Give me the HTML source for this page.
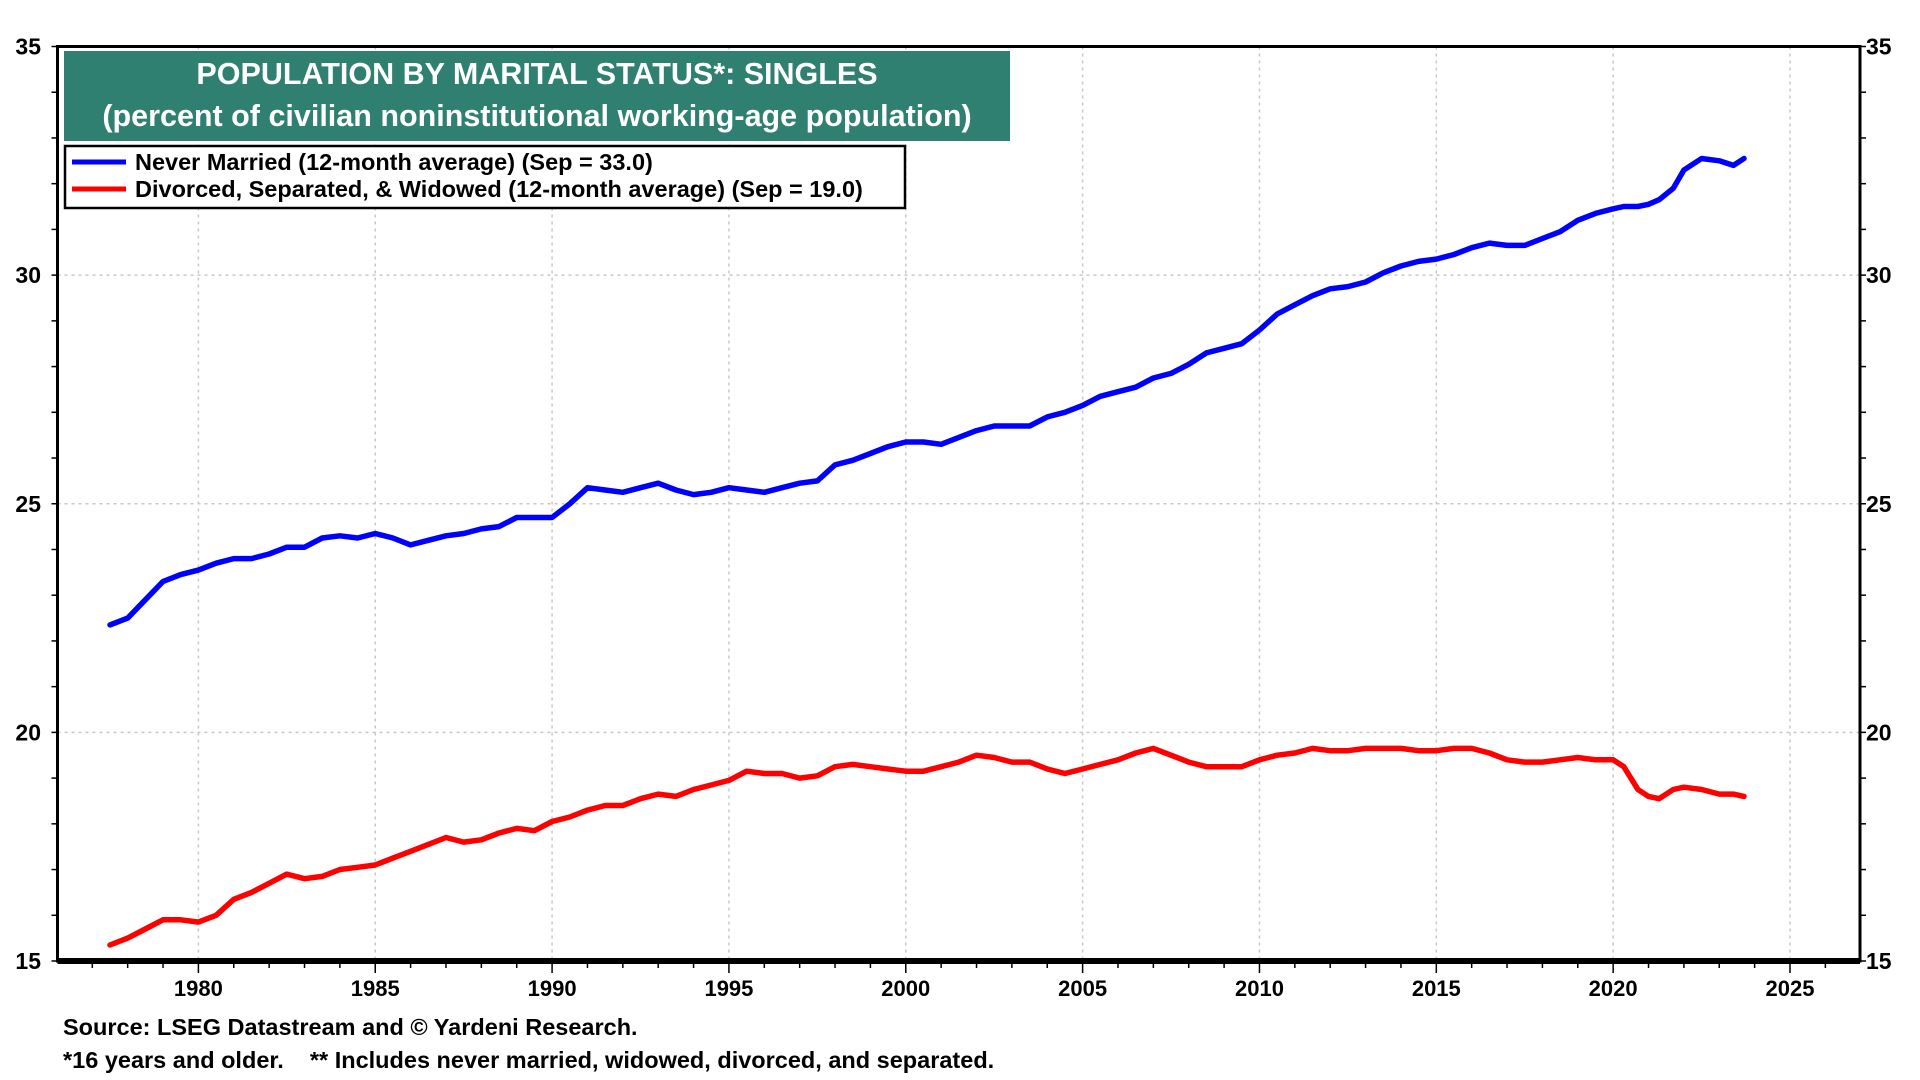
<!DOCTYPE html>
<html><head><meta charset="utf-8"><style>
html,body{margin:0;padding:0;background:#fff;}
svg{display:block;font-family:"Liberation Sans",Arial,sans-serif;}
</style></head><body>
<svg id="chart" width="1920" height="1080" viewBox="0 0 1920 1080">
<g id="grid"></g>
<g id="series"></g>
<g id="axes"></g>
<rect x="64" y="51" width="946" height="90" fill="#2f8070"/>
<text x="537" y="84" text-anchor="middle" fill="#fff" font-size="30.5" font-weight="bold">POPULATION BY MARITAL STATUS*: SINGLES</text>
<text x="537" y="126" text-anchor="middle" fill="#fff" font-size="30.5" font-weight="bold">(percent of civilian noninstitutional working-age population)</text>
<g>
<rect x="65" y="146" width="840" height="62" fill="#fff" stroke="#000" stroke-width="2.5"/>
<line x1="72" y1="162" x2="126" y2="162" stroke="#0000ff" stroke-width="5"/>
<text x="135" y="170" font-size="23.5" font-weight="bold">Never Married (12-month average) (Sep = 33.0)</text>
<line x1="72" y1="189" x2="126" y2="189" stroke="#ff0000" stroke-width="5"/>
<text x="135" y="197" font-size="23.5" font-weight="bold">Divorced, Separated, &amp; Widowed (12-month average) (Sep = 19.0)</text>
</g>
<text x="63" y="1035" font-size="23.5" font-weight="bold">Source: LSEG Datastream and © Yardeni Research.</text>
<text x="63" y="1068" font-size="23.5" font-weight="bold" xml:space="preserve" style="white-space:pre">*16 years and older.    ** Includes never married, widowed, divorced, and separated.</text>
</svg>
<script>
const years = [1977.5,1978,1978.5,1979,1979.5,1980,1980.5,1981,1981.5,1982,1982.5,1983,1983.5,1984,1984.5,1985,1985.5,1986,1986.5,1987,1987.5,1988,1988.5,1989,1989.5,1990,1990.5,1991,1991.5,1992,1992.5,1993,1993.5,1994,1994.5,1995,1995.5,1996,1996.5,1997,1997.5,1998,1998.5,1999,1999.5,2000,2000.5,2001,2001.5,2002,2002.5,2003,2003.5,2004,2004.5,2005,2005.5,2006,2006.5,2007,2007.5,2008,2008.5,2009,2009.5,2010,2010.5,2011,2011.5,2012,2012.5,2013,2013.5,2014,2014.5,2015,2015.5,2016,2016.5,2017,2017.5,2018,2018.5,2019,2019.5,2020,2020.3,2020.7,2021,2021.3,2021.7,2022,2022.5,2023,2023.4,2023.7];
const neverMarried = [22.35,22.5,22.9,23.3,23.45,23.55,23.7,23.8,23.8,23.9,24.05,24.05,24.25,24.3,24.25,24.35,24.25,24.1,24.2,24.3,24.35,24.45,24.5,24.7,24.7,24.7,25.0,25.35,25.3,25.25,25.35,25.45,25.3,25.2,25.25,25.35,25.3,25.25,25.35,25.45,25.5,25.85,25.95,26.1,26.25,26.35,26.35,26.3,26.45,26.6,26.7,26.7,26.7,26.9,27.0,27.15,27.35,27.45,27.55,27.75,27.85,28.05,28.3,28.4,28.5,28.8,29.15,29.35,29.55,29.7,29.75,29.85,30.05,30.2,30.3,30.35,30.45,30.6,30.7,30.65,30.65,30.8,30.95,31.2,31.35,31.45,31.5,31.5,31.55,31.65,31.9,32.3,32.55,32.5,32.4,32.55];
const divorced = [15.35,15.5,15.7,15.9,15.9,15.85,16.0,16.35,16.5,16.7,16.9,16.8,16.85,17.0,17.05,17.1,17.25,17.4,17.55,17.7,17.6,17.65,17.8,17.9,17.85,18.05,18.15,18.3,18.4,18.4,18.55,18.65,18.6,18.75,18.85,18.95,19.15,19.1,19.1,19.0,19.05,19.25,19.3,19.25,19.2,19.15,19.15,19.25,19.35,19.5,19.45,19.35,19.35,19.2,19.1,19.2,19.3,19.4,19.55,19.65,19.5,19.35,19.25,19.25,19.25,19.4,19.5,19.55,19.65,19.6,19.6,19.65,19.65,19.65,19.6,19.6,19.65,19.65,19.55,19.4,19.35,19.35,19.4,19.45,19.4,19.4,19.25,18.75,18.6,18.55,18.75,18.8,18.75,18.65,18.65,18.6];
const xTickLabels = [1980,1985,1990,1995,2000,2005,2010,2015,2020,2025];
const yTickLabels = [15,20,25,30,35];

const L=57.5,R=1860,T=46.5,B=961;
const X0=1980,X1=2025,PX0=198.4,PX1=1790;
function xs(v){return PX0+(v-X0)*(PX1-PX0)/(X1-X0);}
function ys(v){return B-(v-15)*(B-T)/20;}
const NS="http://www.w3.org/2000/svg";
function mk(tag,attrs,parent){const e=document.createElementNS(NS,tag);for(const k in attrs)e.setAttribute(k,attrs[k]);parent.appendChild(e);return e;}
const grid=document.getElementById('grid'),axes=document.getElementById('axes'),series=document.getElementById('series');

xTickLabels.forEach(y=>{
  const g=mk('line',{x1:xs(y),x2:xs(y),y1:T,y2:B,stroke:'#c8c8c8','stroke-width':1.5,'stroke-dasharray':'3,4'},grid);
  
  
  const t=mk('text',{x:xs(y),y:B+35,'text-anchor':'middle','font-size':22,'font-weight':'bold'},axes);
  t.textContent=y;
  
  
});
for(let y=1975;y<=2028;y++){
  const x=xs(y); if(x<L||x>R)continue;
  const tk=mk('line',{x1:x,x2:x,y1:B,y2:B+(y%5===0?12:7),stroke:'#000','stroke-width':1.5},axes);
  
  
}
yTickLabels.forEach(v=>{
  if(v>15&&v<35){
    const g=mk('line',{x1:L,x2:R,y1:ys(v),y2:ys(v),stroke:'#c8c8c8','stroke-width':1.5,'stroke-dasharray':'3,4'},grid);
    
    
  }
  const t=mk('text',{x:41,y:ys(v)+8,'text-anchor':'end','font-size':23,'font-weight':'bold'},axes);
  t.textContent=v;
  
  
  const t2=mk('text',{x:1866,y:ys(v)+8,'text-anchor':'start','font-size':23,'font-weight':'bold'},axes);
  t2.textContent=v;
  
  
});
for(let v=15;v<=35;v++){
  const a=mk('line',{x1:L-6,x2:L,y1:ys(v),y2:ys(v),stroke:'#000','stroke-width':1.5},axes);
  
  
  const b=mk('line',{x1:R,x2:R+6,y1:ys(v),y2:ys(v),stroke:'#000','stroke-width':1.5},axes);
  
  
}
const frame=mk('rect',{x:L,y:T,width:R-L,height:B-T,fill:'none',stroke:'#000','stroke-width':3},axes);


const bottom=mk('line',{x1:L,x2:R,y1:B,y2:B,stroke:'#000','stroke-width':6},axes);



function line(vals,color,name){
  const d=vals.map((v,i)=>(i?'L':'M')+xs(years[i]).toFixed(1)+','+ys(v).toFixed(1)).join(' ');
  const p=mk('path',{d:d,fill:'none',stroke:color,'stroke-width':5.5,'stroke-linejoin':'round','stroke-linecap':'round'},series);
  
  
}
line(neverMarried,'#0000ff','never-married-line');
line(divorced,'#ff0000','divorced-separated-widowed-line');
</script>
</body></html>
